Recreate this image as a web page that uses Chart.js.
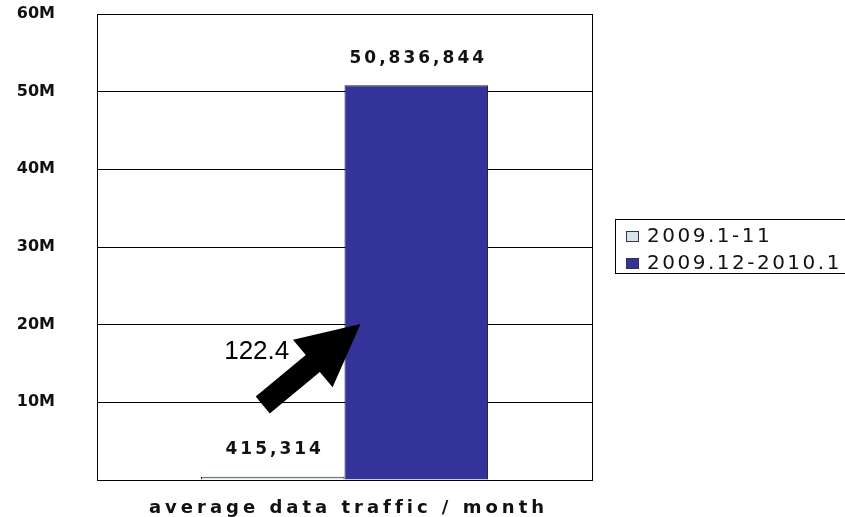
<!DOCTYPE html>
<html>
<head>
<meta charset="utf-8">
<script src="https://cdn.jsdelivr.net/npm/chart.js@4/dist/chart.umd.min.js"></script>
<style>
  html, body { margin: 0; padding: 0; background: #fff; overflow: hidden; }
  #wrap { width: 845px; height: 517px; }
</style>
</head>
<body>
<div id="wrap"><canvas id="myChart" width="845" height="517"></canvas></div>
<script>
// chart data
const categories = ["average data traffic / month"];
const seriesNames = ["2009.1-11", "2009.12-2010.1"];
const oldTraffic = [415314];
const newTraffic = [50836844];
const yTicks = [0, 10000000, 20000000, 30000000, 40000000, 50000000, 60000000];
const growthLabel = "122.4";

const colors = ["#d6e6ea", "#333399"];

// frame, value labels, arrow, legend box and axis title
const extras = {
  id: "extras",
  afterDraw(chart) {
    const ctx = chart.ctx;
    const area = chart.chartArea;
    const y = chart.scales.y;
    ctx.save();

    // frame
    ctx.strokeStyle = "#000";
    ctx.lineWidth = 1;
    ctx.strokeRect(area.left + 0.5, area.top + 0.5, area.right - area.left, area.bottom - area.top);

    // value labels
    ctx.font = "bold 17px 'DejaVu Sans'";
    ctx.letterSpacing = "3px";
    ctx.fillStyle = "#111";
    ctx.textAlign = "center";
    ctx.textBaseline = "middle";
    chart.data.datasets.forEach((ds, i) => {
      const bar = chart.getDatasetMeta(i).data[0];
      ctx.fillText(ds.data[0].toLocaleString("en-US"), bar.x + 2, bar.y - 27);
    });

    // arrow
    const b1 = chart.getDatasetMeta(0).data[0];
    const b2 = chart.getDatasetMeta(1).data[0];
    const tx = b1.x - 10, ty = y.getPixelForValue(9650000);
    const hx = b2.x - b2.width / 2 + 16, hy = y.getPixelForValue(20100000);
    const ang = Math.atan2(hy - ty, hx - tx);
    const len = Math.hypot(hx - tx, hy - ty);
    ctx.translate(tx, ty);
    ctx.rotate(ang);
    ctx.beginPath();
    ctx.moveTo(0, -11);
    ctx.lineTo(len - 62, -11);
    ctx.lineTo(len - 62, -31);
    ctx.lineTo(len, 0);
    ctx.lineTo(len - 62, 31);
    ctx.lineTo(len - 62, 11);
    ctx.lineTo(0, 11);
    ctx.closePath();
    ctx.fillStyle = "#000";
    ctx.fill();
    ctx.setTransform(1, 0, 0, 1, 0, 0);

    // growth label
    ctx.letterSpacing = "0px";
    ctx.font = "26px 'Liberation Sans'";
    ctx.fillStyle = "#000";
    ctx.fillText(growthLabel, b1.x - 16, y.getPixelForValue(16500000));

    // axis title
    ctx.font = "bold 18px 'DejaVu Sans'";
    ctx.letterSpacing = "4px";
    ctx.fillStyle = "#111";
    ctx.fillText(categories[0], (area.left + area.right) / 2 + 4, area.bottom + 28);

    // legend
    const lx = area.right + 23;
    ctx.letterSpacing = "2.5px";
    ctx.strokeStyle = "#000";
    ctx.strokeRect(lx + 0.5, 219.5, 300, 54);
    ctx.font = "20px 'DejaVu Sans'";
    ctx.textAlign = "left";
    seriesNames.forEach((name, i) => {
      const cy = 236 + i * 27;
      ctx.fillStyle = colors[i];
      ctx.fillRect(lx + 11, cy - 5, 13, 11);
      ctx.strokeStyle = "#334";
      ctx.strokeRect(lx + 11.5, cy - 4.5, 12, 10);
      ctx.fillStyle = "#111";
      ctx.fillText(name, lx + 32, cy + 1);
    });
    ctx.restore();
  }
};

const data = {
  labels: categories,
  datasets: [
    {
      label: seriesNames[0],
      data: oldTraffic,
      backgroundColor: colors[0],
      borderColor: "#222",
      borderWidth: 1,
    },
    {
      label: seriesNames[1],
      data: newTraffic,
      backgroundColor: colors[1],
      borderColor: "#1a1a4a",
      borderWidth: 1,
    },
  ],
};

const config = {
  type: "bar",
  data: data,
  options: {
    responsive: false,
    animation: false,
    layout: { padding: { left: 0, right: 253, top: 14, bottom: 0 } },
    categoryPercentage: 0.58,
    barPercentage: 1,
    plugins: {
      legend: { display: false },
      tooltip: { enabled: false },
    },
    scales: {
      x: {
        ticks: { display: false },
        grid: { display: false },
        border: { display: false },
        afterFit: (s) => {
          s.height = 37;
          s.paddingLeft = 0;
          s.paddingRight = 0;
        },
      },
      y: {
        min: 0,
        max: 60000000,
        afterBuildTicks: (s) => { s.ticks = yTicks.map((v) => ({ value: v })); },
        afterFit: (s) => {
          s.width = 97;
          s.paddingTop = 0;
          s.paddingBottom = 0;
        },
        ticks: {
          padding: 42,
          color: "#111",
          font: { family: "DejaVu Sans", size: 16, weight: "bold" },
          callback: (v) => (v === 0 ? "" : v / 1000000 + "M"),
        },
        grid: { color: "#000", lineWidth: 1, drawTicks: false },
        border: { display: true, color: "#000" },
      },
    },
  },
  plugins: [extras],
};

const ctx = document.getElementById("myChart").getContext("2d");
const myChart = new Chart(ctx, config);
</script>
</body>
</html>
